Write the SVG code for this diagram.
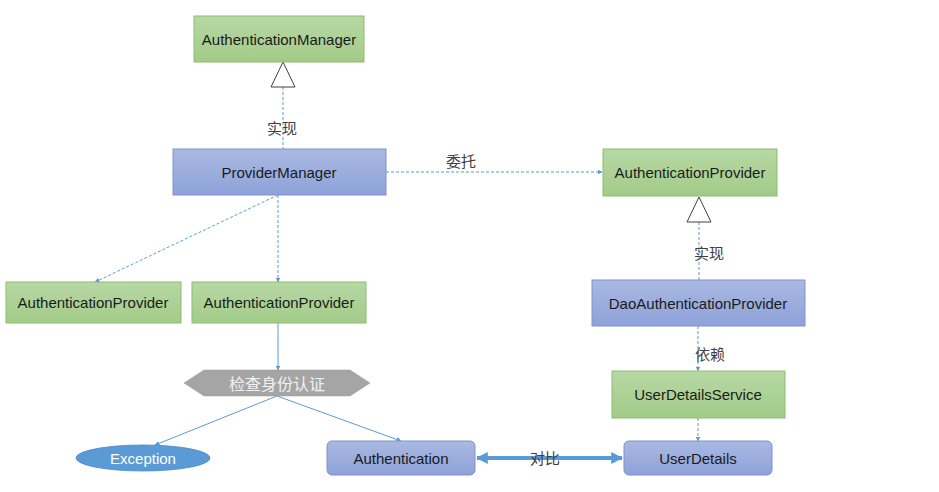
<svg xmlns="http://www.w3.org/2000/svg" width="939" height="492" viewBox="0 0 939 492">
<defs>
<linearGradient id="gGreen" x1="0" y1="0" x2="0" y2="1">
<stop offset="0" stop-color="#b7d8a4"/>
<stop offset="1" stop-color="#a2cb88"/>
</linearGradient>
<linearGradient id="gBlue" x1="0" y1="0" x2="0" y2="1">
<stop offset="0" stop-color="#aab9e2"/>
<stop offset="1" stop-color="#8ea2d9"/>
</linearGradient>
<marker id="arr" viewBox="0 0 10 10" refX="9" refY="5" markerWidth="5" markerHeight="5" orient="auto-start-reverse">
<path d="M0,0 L10,5 L0,10 z" fill="#5b9bd5"/>
</marker>
<marker id="arrBig" viewBox="0 0 10 10" refX="9" refY="5" markerWidth="3" markerHeight="3" orient="auto-start-reverse">
<path d="M0,0 L10,5 L0,10 z" fill="#5b9bd5"/>
</marker>
</defs>
<style>
.g{fill:url(#gGreen);stroke:#8cbd6d;stroke-width:1}
.b{fill:url(#gBlue);stroke:#7d93d0;stroke-width:1}
.t{font-family:"Liberation Sans","Noto Sans CJK SC",sans-serif;font-size:15px;fill:#1a1a1a;text-anchor:middle;dominant-baseline:central}
.lbl{font-family:"Noto Sans CJK SC","Liberation Sans",sans-serif;font-size:15px;fill:#404040;text-anchor:middle;dominant-baseline:central}
.d{fill:none;stroke:#5b9bd5;stroke-width:1;stroke-dasharray:3,2}
.s{fill:none;stroke:#5b9bd5;stroke-width:1}
.tri{fill:#fff;stroke:#404040;stroke-width:1}
</style>
<rect width="939" height="492" fill="#fff"/>
<g id="connectors">
<line class="d" x1="283" y1="87" x2="283" y2="149"/>
<line class="d" x1="386" y1="172" x2="602" y2="172" marker-end="url(#arr)"/>
<line class="d" x1="278" y1="195" x2="95" y2="282" marker-end="url(#arr)"/>
<line class="d" x1="278" y1="195" x2="278" y2="282" marker-end="url(#arr)"/>
<line class="d" x1="699" y1="222" x2="699" y2="280"/>
<line class="d" x1="698" y1="326" x2="698" y2="371" marker-end="url(#arr)"/>
<line class="d" x1="698" y1="418" x2="698" y2="441" marker-end="url(#arr)"/>
<line class="s" x1="278" y1="323" x2="278" y2="370" marker-end="url(#arr)"/>
<line class="s" x1="277" y1="396" x2="155" y2="445" marker-end="url(#arr)"/>
<line class="s" x1="277" y1="396" x2="401" y2="441" marker-end="url(#arr)"/>
<line x1="477" y1="458" x2="622" y2="458" stroke="#5b9bd5" stroke-width="4" marker-start="url(#arrBig)" marker-end="url(#arrBig)"/>
<polygon class="tri" points="283,62 271,87 295,87"/>
<polygon class="tri" points="699,197 687,222 711,222"/>
<text class="lbl" x="282" y="127">实现</text>
<text class="lbl" x="461" y="160">委托</text>
<text class="lbl" x="709" y="252">实现</text>
<text class="lbl" x="710" y="353">依赖</text>
<text class="lbl" x="545" y="457">对比</text>
</g>
<g id="authManager"><rect class="g" x="194" y="16" width="170" height="46"/><text class="t" x="279" y="39">AuthenticationManager</text></g>
<g id="providerManager"><rect class="b" x="173" y="149" width="213" height="46"/><text class="t" x="279" y="172">ProviderManager</text></g>
<g id="authProviderRight"><rect class="g" x="603" y="149" width="174" height="47"/><text class="t" x="690" y="172">AuthenticationProvider</text></g>
<g id="daoProvider"><rect class="b" x="592" y="280" width="213" height="46"/><text class="t" x="698" y="303">DaoAuthenticationProvider</text></g>
<g id="userDetailsService"><rect class="g" x="612" y="371" width="173" height="47"/><text class="t" x="698" y="394">UserDetailsService</text></g>
<g id="userDetails"><rect class="b" x="624" y="441" width="148" height="34" rx="5"/><text class="t" x="698" y="458">UserDetails</text></g>
<g id="authentication"><rect class="b" x="327" y="441" width="148" height="34" rx="5"/><text class="t" x="401" y="458">Authentication</text></g>
<g id="authProvider1"><rect class="g" x="6" y="282" width="175" height="41"/><text class="t" x="93" y="302">AuthenticationProvider</text></g>
<g id="authProvider2"><rect class="g" x="192" y="282" width="174" height="41"/><text class="t" x="279" y="302">AuthenticationProvider</text></g>
<g id="check"><polygon points="184,383 204,370 350,370 370,383 350,396 204,396" fill="#a5a5a5" stroke="#999" stroke-width="0.5"/><text class="lbl" x="277" y="383" style="fill:#f2f2f2;font-size:16px">检查身份认证</text></g>
<g id="exception"><ellipse cx="143" cy="458" rx="67" ry="13" fill="#5b9bd5" stroke="#4a88c2" stroke-width="0.8"/><text class="t" x="143" y="458" style="fill:#fff">Exception</text></g>
</svg>
